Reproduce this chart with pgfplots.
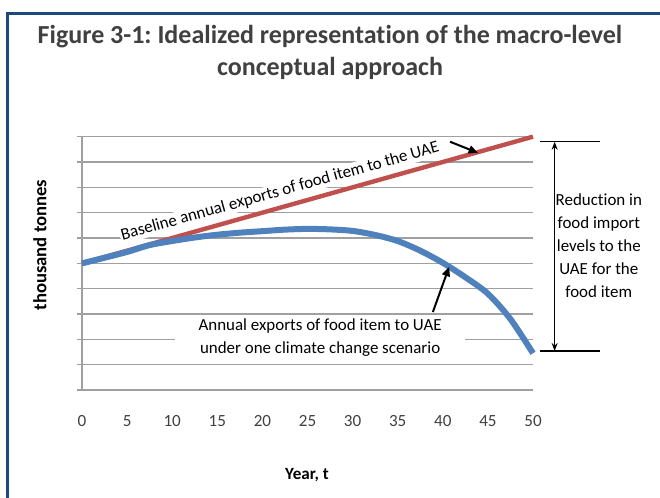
\documentclass[border=0pt]{standalone}
\usepackage{fontspec}
\setmainfont{Carlito}[RawFeature={-liga;-clig;-calt;-dlig;-rlig}]
\usepackage{pgfplots}
\pgfplotsset{compat=1.18}
\usetikzlibrary{arrows.meta}
\definecolor{blueline}{RGB}{79,129,189}
\definecolor{redline}{RGB}{192,80,77}
\definecolor{frameblue}{RGB}{31,73,125}
\definecolor{gridgray}{RGB}{160,160,160}
\definecolor{txtgray}{RGB}{64,64,64}
\frenchspacing
\begin{document}
\begin{tikzpicture}
\useasboundingbox (-61.5pt,-80.25pt) rectangle (433.5pt,292.5pt);
\draw[frameblue, line width=1.8pt] (-55.9pt,-90pt) -- (-55.9pt,282.5pt) -- (440pt,282.5pt);
\node[font=\fontsize{19.5}{24}\selectfont\bfseries, text=txtgray, align=center] at (186pt,253.5pt) {Figure 3-1: Idealized representat\kern0pt ion of the macro-level\\conceptual approach};
\begin{axis}[
  at={(0,0)}, anchor=south west,
  scale only axis, width=338.25pt, height=190pt,
  xmin=0, xmax=50, ymin=0, ymax=10,
  axis lines*=left,
  axis line style={gridgray, line width=1.2pt},
  xtick={0,5,...,50},
  ytick={0,1,...,10},
  yticklabels={},
  ymajorgrids,
  grid style={gridgray, line width=0.9pt},
  major tick length=3.75pt,
  tick align=outside,
  xtick style={draw=none},
  ytick style={gridgray, line width=0.9pt},
  xticklabel style={anchor=center, yshift=-19.5pt, font=\fontsize{12.8}{13}\selectfont, text=txtgray},
  /pgf/number format/assume math mode=true,
  clip=false,
]
\addplot[redline, line width=3.3pt] coordinates {(0,5) (10,6) (20,7) (30,8) (40,9) (50,10)};
\addplot[blueline, line width=4.5pt, smooth] coordinates {
(0,5.00) (2.5,5.22) (5,5.45) (7.5,5.72) (10,5.88) (12.5,6.02) (15,6.13) (17.5,6.21)
(20,6.27) (22.5,6.33) (25,6.36) (27.5,6.34) (30,6.28) (32.5,6.12) (35,5.88)
(37.5,5.50) (40,5.02) (42.5,4.45) (45,3.80) (47.5,2.80) (50,1.45)};
\node[rotate=15.6, fill=white, inner sep=1pt, font=\fontsize{12.7}{14}\selectfont] at (axis cs:21.95,7.83) {Baseline annual exports of food item to the UAE};
\draw[-{Triangle[length=7pt,width=6pt]}, line width=1.5pt] (axis cs:40.8,9.8) -- (axis cs:43.9,9.36);
\node[fill=white, align=center, inner ysep=2pt, minimum width=217.5pt, font=\fontsize{12.7}{17.25}\selectfont] at (axis cs:26.4,2.05) {Annual exports of food item to UAE\\under one climate change scenario};
\draw[-{Triangle[length=7pt,width=6pt]}, line width=1.5pt] (axis cs:38.9,3.08) -- (axis cs:40.7,4.86);
\draw[line width=1pt] (axis cs:50.8,9.8) -- (axis cs:57.4,9.8);
\draw[line width=1pt] (axis cs:50.8,1.54) -- (axis cs:57.4,1.54);
\draw[{Stealth[length=6pt]}-{Stealth[length=6pt]}, line width=0.9pt] (axis cs:52.4,9.8) -- (axis cs:52.4,1.54);
\node[align=center, font=\fontsize{12.7}{17.25}\selectfont] at (axis cs:57.3,5.68) {Reduction in\\food import\\levels to the\\UAE for the\\food item};
\end{axis}
\node[rotate=90, font=\bfseries\fontsize{14}{16}\selectfont] at (-31.5pt,108.75pt) {thousand tonnes};
\node[font=\bfseries\fontsize{12.8}{14}\selectfont] at (168.75pt,-63.75pt) {Year, t};
\end{tikzpicture}
\end{document}
